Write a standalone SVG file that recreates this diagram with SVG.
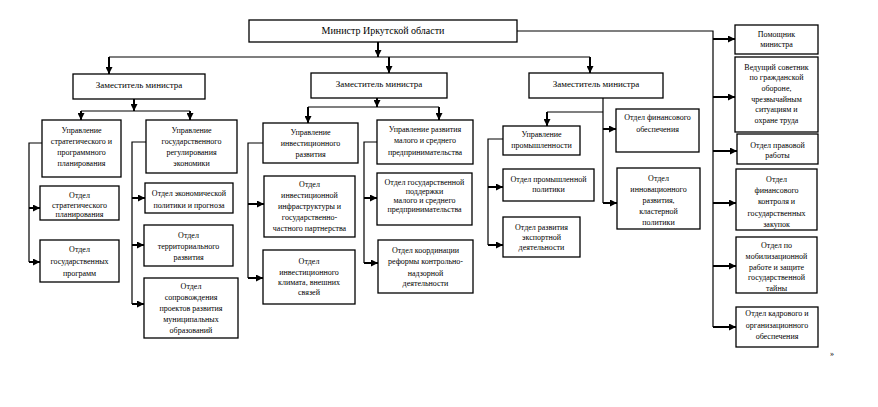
<svg xmlns="http://www.w3.org/2000/svg" width="878" height="407" viewBox="0 0 878 407">
<style>
.b{fill:#fff;stroke:#000;stroke-width:1.3}
.t{font-family:"Liberation Serif","Times New Roman",serif;font-size:8px;fill:#000;text-anchor:middle}
.d{font-size:9px}
.m{font-size:10px}
.l{fill:none;stroke:#000;stroke-width:1.2}
.a{fill:none;stroke:#000;stroke-width:2;marker-end:url(#ah)}
</style>
<defs>
<marker id="ah" markerUnits="userSpaceOnUse" markerWidth="7" markerHeight="7" refX="7" refY="3.5" orient="auto"><path d="M0,0 L7,3.5 L0,7 z" fill="#000"/></marker>
</defs>
<rect width="878" height="407" fill="#fff"/>
<g id="connectors">
<path class="l" d="M109,57 H590"/>
<path class="a" d="M378,42 V57"/>
<path class="a" d="M109,57 V74"/>
<path class="a" d="M389,57 V73"/>
<path class="a" d="M590,57 V73"/>
<path class="l" d="M517,31 H713 V327"/>
<path class="a" d="M713,39 H735"/>
<path class="a" d="M713,97 H735"/>
<path class="a" d="M713,151 H737"/>
<path class="a" d="M713,203 H736"/>
<path class="a" d="M713,266 H736"/>
<path class="a" d="M713,327 H736"/>
<path class="a" d="M134,99 V111"/>
<path class="l" d="M81,111 H190"/>
<path class="a" d="M81,111 V120"/>
<path class="a" d="M190,111 V120"/>
<path class="l" d="M42,143 H29 V262"/>
<path class="a" d="M29,208 H40"/>
<path class="a" d="M29,262 H40"/>
<path class="l" d="M146,142 H132 V304"/>
<path class="a" d="M132,198 H145"/>
<path class="a" d="M132,245 H144"/>
<path class="a" d="M132,304 H144"/>
<path class="a" d="M377,98 V107"/>
<path class="l" d="M308,107 H439"/>
<path class="a" d="M308,107 V123"/>
<path class="a" d="M439,107 V120"/>
<path class="l" d="M263,143 H248 V278"/>
<path class="a" d="M248,204 H264"/>
<path class="a" d="M248,278 H263"/>
<path class="l" d="M377,142 H364 V263"/>
<path class="a" d="M364,198 H377"/>
<path class="a" d="M364,263 H378"/>
<path class="l" d="M603,98 V203"/>
<path class="l" d="M603,112 H547"/>
<path class="a" d="M547,112 V126"/>
<path class="a" d="M603,129 H616"/>
<path class="a" d="M603,203 H617"/>
<path class="l" d="M503,139 H488 V245"/>
<path class="a" d="M488,187 H503"/>
<path class="a" d="M488,245 H503"/>
</g>
<g id="minister"><rect class="b" x="249" y="20" width="268" height="22"/><text class="t m" x="383" y="34">Министр Иркутской области</text></g>
<g id="dep1"><rect class="b" x="73" y="74" width="132" height="25"/><text class="t d" x="139" y="88">Заместитель министра</text></g>
<g id="dep2"><rect class="b" x="311" y="73" width="136" height="25"/><text class="t d" x="379" y="87">Заместитель министра</text></g>
<g id="dep3"><rect class="b" x="529" y="73" width="134" height="25"/><text class="t d" x="596" y="87">Заместитель министра</text></g>
<g id="b1"><rect class="b" x="42" y="120" width="79" height="57"/><text class="t"><tspan x="81.5" y="133">Управление</tspan><tspan x="81.5" y="144">стратегического и</tspan><tspan x="81.5" y="155">программного</tspan><tspan x="81.5" y="166">планирования</tspan></text></g>
<g id="b2"><rect class="b" x="146" y="120" width="91" height="53"/><text class="t"><tspan x="191.5" y="133">Управление</tspan><tspan x="191.5" y="144">государственного</tspan><tspan x="191.5" y="155">регулирования</tspan><tspan x="191.5" y="166">экономики</tspan></text></g>
<g id="b3"><rect class="b" x="40" y="186" width="79" height="34"/><text class="t"><tspan x="79.5" y="198">Отдел</tspan><tspan x="79.5" y="208">стратегического</tspan><tspan x="79.5" y="217">планирования</tspan></text></g>
<g id="b4"><rect class="b" x="40" y="240" width="79" height="42"/><text class="t"><tspan x="79.5" y="252">Отдел</tspan><tspan x="79.5" y="264">государственных</tspan><tspan x="79.5" y="276">программ</tspan></text></g>
<g id="b5"><rect class="b" x="145" y="183" width="88" height="30"/><text class="t"><tspan x="189" y="196">Отдел экономической</tspan><tspan x="189" y="208">политики  и прогноза</tspan></text></g>
<g id="b6"><rect class="b" x="144" y="225" width="89" height="41"/><text class="t"><tspan x="188.5" y="238">Отдел</tspan><tspan x="188.5" y="249">территориального</tspan><tspan x="188.5" y="260">развития</tspan></text></g>
<g id="b7"><rect class="b" x="144" y="278" width="94" height="60"/><text class="t"><tspan x="191" y="289">Отдел</tspan><tspan x="191" y="300">сопровождения</tspan><tspan x="191" y="311">проектов развития</tspan><tspan x="191" y="322">муниципальных</tspan><tspan x="191" y="333">образований</tspan></text></g>
<g id="c1"><rect class="b" x="263" y="123" width="95" height="40"/><text class="t"><tspan x="310.5" y="135">Управление</tspan><tspan x="310.5" y="146">инвестиционного</tspan><tspan x="310.5" y="157">развития</tspan></text></g>
<g id="c2"><rect class="b" x="377" y="120" width="96" height="44"/><text class="t"><tspan x="425" y="132">Управление развития</tspan><tspan x="425" y="143">малого и среднего</tspan><tspan x="425" y="155">предпринимательства</tspan></text></g>
<g id="c3"><rect class="b" x="264" y="176" width="91" height="61"/><text class="t"><tspan x="309.5" y="187">Отдел</tspan><tspan x="309.5" y="198">инвестиционной</tspan><tspan x="309.5" y="209">инфраструктуры и</tspan><tspan x="309.5" y="220">государственно-</tspan><tspan x="309.5" y="231">частного партнерства</tspan></text></g>
<g id="c4"><rect class="b" x="263" y="250" width="92" height="54"/><text class="t"><tspan x="309" y="264">Отдел</tspan><tspan x="309" y="275">инвестиционного</tspan><tspan x="309" y="285">климата, внешних</tspan><tspan x="309" y="295">связей</tspan></text></g>
<g id="c5"><rect class="b" x="377" y="173" width="95" height="52"/><text class="t"><tspan x="424.5" y="185">Отдел государственной</tspan><tspan x="424.5" y="194">поддержки</tspan><tspan x="424.5" y="203">малого и среднего</tspan><tspan x="424.5" y="212">предпринимательства</tspan></text></g>
<g id="c6"><rect class="b" x="378" y="240" width="95" height="53"/><text class="t"><tspan x="425.5" y="253">Отдел координации</tspan><tspan x="425.5" y="264">реформы  контрольно-</tspan><tspan x="425.5" y="276">надзорной</tspan><tspan x="425.5" y="286">деятельности</tspan></text></g>
<g id="d1"><rect class="b" x="503" y="126" width="77" height="29"/><text class="t"><tspan x="541.5" y="137">Управление</tspan><tspan x="541.5" y="148">промышленности</tspan></text></g>
<g id="d2"><rect class="b" x="503" y="169" width="91" height="32"/><text class="t"><tspan x="548.5" y="182">Отдел промышленной</tspan><tspan x="548.5" y="192">политики</tspan></text></g>
<g id="d3"><rect class="b" x="503" y="217" width="77" height="40"/><text class="t"><tspan x="541.5" y="230">Отдел развития</tspan><tspan x="541.5" y="240">экспортной</tspan><tspan x="541.5" y="250">деятельности</tspan></text></g>
<g id="d4"><rect class="b" x="616" y="109" width="83" height="43"/><text class="t"><tspan x="657.5" y="120">Отдел финансового</tspan><tspan x="657.5" y="132">обеспечения</tspan></text></g>
<g id="d5"><rect class="b" x="617" y="168" width="83" height="61"/><text class="t"><tspan x="658.5" y="181">Отдел</tspan><tspan x="658.5" y="192">инновационного</tspan><tspan x="658.5" y="203">развития,</tspan><tspan x="658.5" y="214">кластерной</tspan><tspan x="658.5" y="225">политики</tspan></text></g>
<g id="e1"><rect class="b" x="735" y="25" width="83" height="29"/><text class="t"><tspan x="776.5" y="37">Помощник</tspan><tspan x="776.5" y="47">министра</tspan></text></g>
<g id="e2"><rect class="b" x="735" y="57" width="83" height="75"/><text class="t"><tspan x="776.5" y="70">Ведущий советник</tspan><tspan x="776.5" y="80">по гражданской</tspan><tspan x="776.5" y="91">обороне,</tspan><tspan x="776.5" y="102">чрезвычайным</tspan><tspan x="776.5" y="112">ситуациям и</tspan><tspan x="776.5" y="123">охране труда</tspan></text></g>
<g id="e3"><rect class="b" x="737" y="134" width="81" height="30"/><text class="t"><tspan x="777.5" y="148">Отдел правовой</tspan><tspan x="777.5" y="158">работы</tspan></text></g>
<g id="e4"><rect class="b" x="736" y="169" width="81" height="61"/><text class="t"><tspan x="776.5" y="182">Отдел</tspan><tspan x="776.5" y="193">финансового</tspan><tspan x="776.5" y="204">контроля и</tspan><tspan x="776.5" y="216">государственных</tspan><tspan x="776.5" y="227">закупок</tspan></text></g>
<g id="e5"><rect class="b" x="736" y="237" width="81" height="56"/><text class="t"><tspan x="776.5" y="248">Отдел по</tspan><tspan x="776.5" y="259">мобилизационной</tspan><tspan x="776.5" y="270">работе и защите</tspan><tspan x="776.5" y="280">государственной</tspan><tspan x="776.5" y="291">тайны</tspan></text></g>
<g id="e6"><rect class="b" x="736" y="307" width="82" height="40"/><text class="t"><tspan x="777" y="316">Отдел кадрового и</tspan><tspan x="777" y="328">организационного</tspan><tspan x="777" y="339">обеспечения</tspan></text></g>
<text class="t" x="832" y="356">»</text>
</svg>
